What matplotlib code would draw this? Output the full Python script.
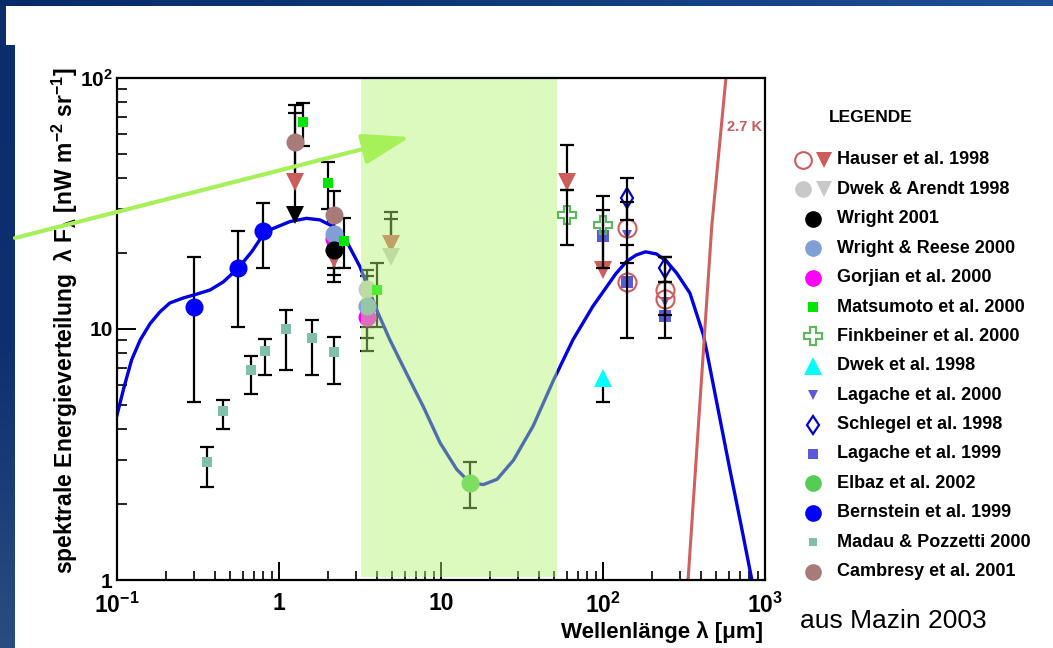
import numpy as np
import matplotlib
matplotlib.use('Agg')
import matplotlib.pyplot as plt
from matplotlib.ticker import LogLocator, NullFormatter
from matplotlib.colors import LinearSegmentedColormap

plt.rcParams['font.family'] = ['Liberation Sans', 'DejaVu Sans']
plt.rcParams['mathtext.fontset'] = 'custom'
plt.rcParams['mathtext.rm'] = 'Liberation Sans:bold'
plt.rcParams['mathtext.bf'] = 'Liberation Sans:bold'
plt.rcParams['mathtext.it'] = 'Liberation Sans:bold'
plt.rcParams['mathtext.default'] = 'bf'

# ---------------- data ----------------
curve_lam = [0.1, 0.11, 0.123, 0.139, 0.160, 0.184, 0.212, 0.257, 0.303, 0.375, 0.453,
             0.561, 0.678, 0.820, 1.17, 1.48, 1.79, 2.16, 2.62, 3.16, 4.01, 4.84, 6.12,
             7.78, 9.87, 12.5, 15.1, 18.3, 22.2, 28.0, 37.0, 49.2, 65.2, 86.5, 120, 140,
             160, 183, 214, 247, 285, 344, 416, 436, 608, 711, 830]
curve_val = [4.54, 5.8, 7.52, 9.04, 10.5, 11.7, 12.7, 13.3, 13.7, 14.3, 15.4,
             17.5, 20.3, 24.4, 26.8, 27.6, 27.2, 25.6, 22.3, 17.7, 11.9, 9.04, 6.66,
             4.9, 3.52, 2.76, 2.44, 2.40, 2.52, 3.0, 4.1, 6.2, 9.05, 12.3, 16.6, 18.6,
             19.7, 20.3, 19.9, 18.6, 16.7, 13.9, 9.5, 8.2, 2.74, 1.66, 1.0]

bb_lam = [335, 469, 574]
bb_val = [1.0, 25.6, 100.0]

band_lo, band_hi = 3.2, 52.0

hauser_tri_x = [1.25, 2.2, 4.9, 60, 100]
hauser_tri_y = [38.6, 19.0, 21.9, 38.6, 17.2]
hauser_tri_lo = [None, None, None, 35.8, None]
hauser_tri_hi = [72.6, None, 29.3, 54.1, 29.8]

hauser_circ_x = [140, 140, 240, 240]
hauser_circ_y = [25.2, 15.4, 14.3, 13.2]
hauser_circ_lo = [18.4, 9.2, 9.2, 11.4]
hauser_circ_hi = [32.0, 21.6, 19.4, 15.4]

da_circ_x = [3.5]
da_circ_y = [14.4]
da_circ_lo = [10.2]
da_circ_hi = [17.2]

da_tri_x = [4.9]
da_tri_y = [19.4]
da_tri_hi = [27.4]

wright_x = [2.2]
wright_y = [20.7]
wright_lo = [15.4]
wright_hi = [27.0]
wright_tri_x = [1.25]
wright_tri_y = [28.5]

wr_x = [2.2, 3.5]
wr_y = [24.0, 12.4]
wr_lo = [17.5, 9.2]
wr_hi = [28.0, 16.2]

gor_x = [2.2, 3.5]
gor_y = [22.9, 11.2]
gor_lo = [16.4, 8.2]
gor_hi = [28.0, 14.2]

mat_x = [1.40, 2.0, 2.53, 4.0]
mat_y = [67.0, 38.0, 22.5, 14.3]
mat_lo = [53.7, 30.0, 17.5, 10.2]
mat_hi = [79.8, 46.4, 27.6, 18.4]

fink_x = [60, 100]
fink_y = [28.5, 25.9]
fink_lo = [21.6, 17.5]
fink_hi = [35.8, 33.9]

dwek_x = [100]
dwek_y = [6.37]
dwek_lo = [5.13]

lag00_x = [140, 240]
lag00_y = [23.7, 12.8]

sch_x = [140, 240]
sch_y = [33.2, 17.5]
sch_lo = [27.2, 15.4]
sch_hi = [39.8, 19.4]

lag99_x = [100, 140, 240]
lag99_y = [23.5, 15.4, 11.3]

elb_x = [15.0]
elb_y = [2.44]
elb_lo = [1.94]
elb_hi = [2.96]

bern_x = [0.30, 0.555, 0.80]
bern_y = [12.2, 17.5, 24.5]
bern_lo = [5.1, 10.2, 17.5]
bern_hi = [19.4, 24.6, 31.8]

mad_x = [0.36, 0.45, 0.67, 0.82, 1.1, 1.6, 2.2]
mad_y = [2.96, 4.71, 6.87, 8.2, 9.97, 9.23, 8.12]
mad_lo = [2.34, 3.98, 5.51, 6.54, 6.87, 6.54, 6.04]
mad_hi = [3.40, 5.21, 7.80, 9.1, 11.9, 10.9, 9.31]

cam_x = [1.25, 2.2]
cam_y = [55.7, 28.5]
cam_lo = [30.0, 21.5]
cam_hi = [78.0, 35.5]

xtick_vals = [0.1, 1, 10, 100, 1000]
xtick_labels = [r'$10^{-1}$', '1', '10', r'$10^{2}$', r'$10^{3}$']
ytick_vals = [1, 10, 100]
ytick_labels = ['1', '10', r'$10^{2}$']

legend_names = ['Hauser et al. 1998', 'Dwek & Arendt 1998', 'Wright 2001',
                'Wright & Reese 2000', 'Gorjian et al. 2000', 'Matsumoto et al. 2000',
                'Finkbeiner et al. 2000', 'Dwek et al. 1998', 'Lagache et al. 2000',
                'Schlegel et al. 1998', 'Lagache et al. 1999', 'Elbaz et al. 2002',
                'Bernstein et al. 1999', 'Madau & Pozzetti 2000', 'Cambresy et al. 2001']

# ---------------- colours ----------------
HAU = '#cd5c5c'
DA = '#c8c8c8'
WR = '#7f9fd5'
GOR = '#ff00ff'
MAT = '#00e600'
FINK = '#5cb85c'
DWEK = '#00ffff'
LAG = '#5a5ad8'
SCH = '#0000cc'
ELB = '#55cc55'
BERN = '#0000ff'
MAD = '#80c0a8'
CAM = '#a87a7a'

W, H = 1053, 648
fig = plt.figure(figsize=(W / 100, H / 100), dpi=100)
fig.patch.set_facecolor('white')

ax = fig.add_axes([117 / W, 1 - 580 / H, (765 - 117) / W, (580 - 78) / H])
ax.set_xscale('log')
ax.set_yscale('log')
ax.set_xlim(0.1, 1000)
ax.set_ylim(1, 100)


def err(xs, ys, lo=None, hi=None, z=2):
    n = len(xs)
    lo = lo if lo is not None else [None] * n
    hi = hi if hi is not None else [None] * n
    for xi, yi, l, h in zip(xs, ys, lo, hi):
        top = yi if h is None else h
        bot = yi if l is None else l
        if top != bot:
            ax.plot([xi, xi], [bot, top], color='black', lw=1.6, zorder=z,
                    solid_capstyle='butt')
        caps = [v for v in (l, h) if v is not None]
        if caps:
            ax.plot([xi] * len(caps), caps, ls='none', marker='_', ms=9.5, mew=1.6,
                    color='black', zorder=z)


def pts(xs, ys, marker, ms, fc, ec=None, mew=0.0, z=3):
    ax.plot(xs, ys, ls='none', marker=marker, ms=ms, mfc=fc,
            mec=ec if ec is not None else fc, mew=mew, zorder=z)


# model curve and 2.7 K line
ax.plot(curve_lam, curve_val, color='#0000e0', lw=2.4, zorder=2.5,
        solid_joinstyle='round')
ax.plot(bb_lam, bb_val, color='#d06060', lw=2.2, zorder=2.5)

# data
err(mad_x, mad_y, mad_lo, mad_hi)
pts(mad_x, mad_y, 's', 6.5, MAD)

err(bern_x, bern_y, bern_lo, bern_hi)
pts(bern_x, bern_y, 'o', 13, BERN)

err(cam_x, cam_y, cam_lo, cam_hi)
pts(cam_x, cam_y, 'o', 13, CAM)

err(hauser_tri_x, hauser_tri_y, hauser_tri_lo, hauser_tri_hi)
pts(hauser_tri_x, hauser_tri_y, 'v', 13, HAU)

pts(wright_tri_x, wright_tri_y, 'v', 13, 'black')

err(mat_x, mat_y, mat_lo, mat_hi)
err(da_circ_x, da_circ_y, da_circ_lo, da_circ_hi)
err(da_tri_x, da_tri_y, None, da_tri_hi)
pts(da_tri_x, da_tri_y, 'v', 13, DA)
pts(da_circ_x, da_circ_y, 'o', 13, DA)

err(gor_x, gor_y, gor_lo, gor_hi)
err(wr_x, wr_y, wr_lo, wr_hi)
err(wright_x, wright_y, wright_lo, wright_hi)
pts(gor_x, gor_y, 'o', 13, GOR)
pts(wr_x, wr_y, 'o', 13, WR)
pts(wright_x, wright_y, 'o', 13, 'black')
pts(mat_x, mat_y, 's', 7, MAT, z=3.2)

err(elb_x, elb_y, elb_lo, elb_hi)
pts(elb_x, elb_y, 'o', 13, ELB)

err(dwek_x, dwek_y, dwek_lo, None)
pts(dwek_x, dwek_y, '^', 13, DWEK)

pts(lag99_x, lag99_y, 's', 8, LAG)
pts(lag00_x, lag00_y, 'v', 7.5, LAG)
pts(hauser_circ_x, hauser_circ_y, 'o', 13, 'none', HAU, 1.5)
pts(fink_x, fink_y, 'P', 13, 'none', FINK, 1.5)
pts(sch_x, sch_y, 'd', 10.5, 'none', SCH, 1.6)
err(hauser_circ_x, hauser_circ_y, hauser_circ_lo, hauser_circ_hi, z=3.5)
err(fink_x, fink_y, fink_lo, fink_hi, z=3.5)
err(sch_x, sch_y, sch_lo, sch_hi, z=3.5)

# highlighted band (drawn semi-transparent over the data)
ax.axvspan(band_lo, band_hi, ymin=0.006, ymax=1.0, color=(0.70, 0.96, 0.44),
           alpha=0.45, lw=0, zorder=4)

# axes styling
for s in ax.spines.values():
    s.set_linewidth(1.6)
    s.set_zorder(10)
ax.set_xticks(xtick_vals, xtick_labels)
ax.set_yticks(ytick_vals, ytick_labels)
ax.xaxis.set_minor_locator(LogLocator(base=10, subs=np.arange(2, 10)))
ax.yaxis.set_minor_locator(LogLocator(base=10, subs=np.arange(2, 10)))
ax.xaxis.set_minor_formatter(NullFormatter())
ax.yaxis.set_minor_formatter(NullFormatter())
ax.tick_params(axis='x', which='major', direction='in', length=13, width=1.4,
               labelsize=16.5, pad=9, top=False)
ax.tick_params(axis='x', which='minor', direction='in', length=6.5, width=1.2, top=False)
ax.tick_params(axis='y', which='major', direction='in', length=14, width=1.4,
               labelsize=15, pad=3, right=False)
ax.tick_params(axis='y', which='minor', direction='in', length=7, width=1.2, right=False)
for lbl in ax.get_xticklabels() + ax.get_yticklabels():
    lbl.set_fontweight('bold')

# ---------------- overlay (pixel coordinates) ----------------
ov = fig.add_axes([0, 0, 1, 1], zorder=5)
ov.patch.set_visible(False)
ov.axis('off')

top_cmap = LinearSegmentedColormap.from_list('top', ['#082a6a', '#0f3a7c', '#1f5096'])
ov.imshow(np.linspace(0, 1, 256)[None, :], cmap=top_cmap, extent=(0, W, 6, 0),
          aspect='auto', zorder=1)
left_cmap = LinearSegmentedColormap.from_list('left', ['#0b2d6c', '#0d3070', '#2a4d80'])
ov.imshow(np.linspace(0, 1, 256)[:, None], cmap=left_cmap, extent=(0, 15, H, 45),
          aspect='auto', zorder=1)
ov.imshow(np.zeros((2, 2)), cmap=left_cmap, extent=(0, 6, 45, 6), aspect='auto', zorder=1)
ov.set_xlim(0, W)
ov.set_ylim(H, 0)

ov.annotate('', xy=(410, 137), xytext=(15, 238),
            arrowprops=dict(arrowstyle='-|>,head_length=2.95,head_width=0.95',
                            color='#a6f05a', lw=3, mutation_scale=10,
                            shrinkA=0, shrinkB=0), zorder=6)

ov.text(762, 127, '2.7 K', color='#cc5a5a', fontsize=10.5, fontweight='bold',
        ha='right', va='center')

ov.text(65, 68, r'spektrale Energieverteilung  λ F$_{λ}$ [nW m$^{-2}$ sr$^{-1}$]',
        rotation=90, ha='center', va='top', fontsize=16.5, fontweight='bold')
ov.text(763, 632, 'Wellenlänge λ [μm]', ha='right', va='center', fontsize=16,
        fontweight='bold')

ov.text(871, 117, 'LEGENDE', ha='center', va='center', fontsize=12.5, fontweight='bold')
leg_markers = [
    [(803, 'o', 12, 'none', HAU, 1.5), (824, 'v', 12, HAU, HAU, 0)],
    [(803, 'o', 12, DA, DA, 0), (824, 'v', 12, DA, DA, 0)],
    [(813, 'o', 12, 'black', 'black', 0)],
    [(813, 'o', 12, WR, WR, 0)],
    [(813, 'o', 12, GOR, GOR, 0)],
    [(813, 's', 6.5, MAT, MAT, 0)],
    [(813, 'P', 13, 'none', FINK, 1.5)],
    [(813, '^', 13, DWEK, DWEK, 0)],
    [(813, 'v', 7.5, LAG, LAG, 0)],
    [(813, 'd', 9.5, 'none', SCH, 1.6)],
    [(813, 's', 7.5, LAG, LAG, 0)],
    [(813, 'o', 12, ELB, ELB, 0)],
    [(813, 'o', 12, BERN, BERN, 0)],
    [(813, 's', 6, MAD, MAD, 0)],
    [(813, 'o', 12, CAM, CAM, 0)],
]
for i, (name, marks) in enumerate(zip(legend_names, leg_markers)):
    yy = 160 + i * 29.4
    for (mx, m, ms, fc, ec, mew) in marks:
        ov.plot([mx], [yy], ls='none', marker=m, ms=ms, mfc=fc, mec=ec, mew=mew)
    ov.text(837, yy, name, ha='left', va='center', fontsize=13, fontweight='bold')

ov.text(800, 621, 'aus Mazin 2003', ha='left', va='center', fontsize=19)

fig.savefig('out.png', dpi=100)
